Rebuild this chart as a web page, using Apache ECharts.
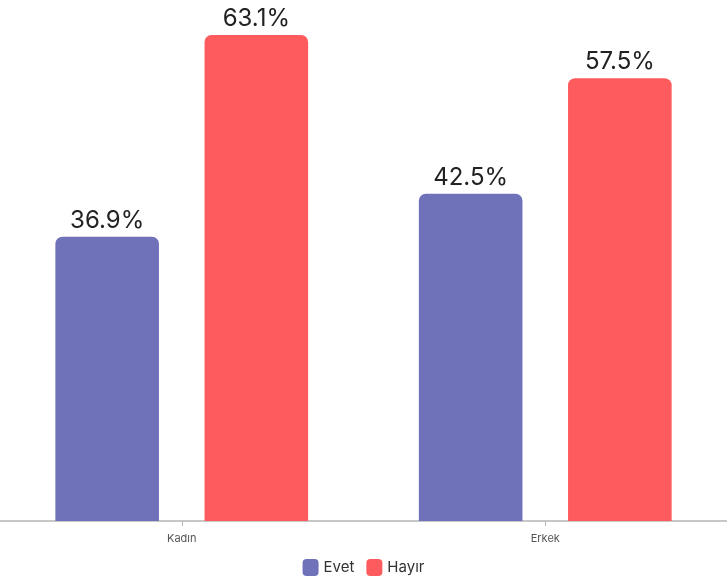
<!DOCTYPE html>
<html><head><meta charset="utf-8">
<script src="https://cdn.jsdelivr.net/npm/echarts@6/dist/echarts.min.js"></script>
<style>html,body{margin:0;padding:0;background:#fff}#c{width:727px;height:586px}</style>
</head><body><div id="c"></div>
<script>
const categories = ['Kadın', 'Erkek'];
const evet = [36.9, 42.5];
const hayir = [63.1, 57.5];
const seriesNames = ['Evet', 'Hayır'];

const chart = echarts.init(document.getElementById('c'));
const fontFamily = 'Inter, "Open Sans", sans-serif';
function mk(name, data, color) {
  return {
    name, type: 'bar', data,
    barWidth: '28.5%', barGap: '44%',
    itemStyle: { color, borderRadius: [7, 7, 0, 0] },
    label: { show: true, position: 'top', distance: 4, formatter: p => p.value.toFixed(1) + '%',
      color: '#222', fontSize: 24, fontFamily }
  };
}
chart.setOption({
  animation: false,
  grid: { left: 0, right: -2, top: 35, bottom: 65, containLabel: false },
  legend: { bottom: 5, left: 'center', itemWidth: 16, itemHeight: 17, itemGap: 12,
    icon: 'roundRect', textStyle: { fontSize: 15, color: '#333', fontFamily } },
  xAxis: { type: 'category', data: categories,
    axisLine: { lineStyle: { color: '#b5b5b5', width: 1.5 } },
    axisTick: { show: true, alignWithLabel: true, length: 5, lineStyle: { color: '#b5b5b5' } },
    axisLabel: { color: '#555', fontSize: 11, margin: 12, fontFamily } },
  yAxis: { type: 'value', min: 0, max: 'dataMax', show: false, splitLine: { show: false } },
  series: [mk(seriesNames[0], evet, '#6f72b9'), mk(seriesNames[1], hayir, '#fd5b5e')]
});
</script></body></html>
